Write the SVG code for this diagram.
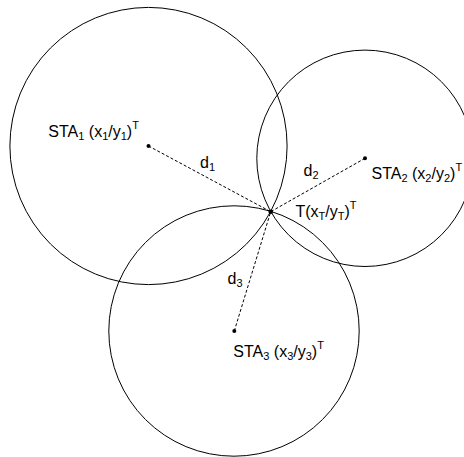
<svg xmlns="http://www.w3.org/2000/svg" width="464" height="457" viewBox="0 0 464 457">
<style>
.c{fill:none;stroke:#000;stroke-width:1}
.d{fill:none;stroke:#000;stroke-width:1;stroke-dasharray:3 2}
.p{fill:#000}
text{font-family:"Liberation Sans",Arial,sans-serif;font-size:16px;fill:#000}
.s{font-size:11px}
</style>
<rect width="464" height="457" fill="#fff"/>
<g id="connectors">
<line class="d" x1="148.5" y1="146" x2="270.7" y2="211.7"/>
<line class="d" x1="365" y1="158.3" x2="270.7" y2="211.7"/>
<line class="d" x1="234.3" y1="331" x2="270.7" y2="211.7"/>
</g>
<g id="circle1"><circle class="c" cx="148.5" cy="146" r="138.6"/></g>
<g id="circle2"><circle class="c" cx="365" cy="158.3" r="108.2"/></g>
<g id="circle3"><circle class="c" cx="234" cy="331" r="125.2"/></g>
<g id="sta1">
<circle class="p" cx="148.5" cy="146" r="2"/>
<text x="48.3" y="136.5">STA<tspan class="s" dy="3">1</tspan><tspan dy="-3"> (x</tspan><tspan class="s" dy="3">1</tspan><tspan dy="-3">/y</tspan><tspan class="s" dy="3">1</tspan><tspan dy="-3">)</tspan><tspan class="s" dy="-8">T</tspan></text>
</g>
<g id="sta2">
<circle class="p" cx="365" cy="158.3" r="2"/>
<text x="371.5" y="178.5">STA<tspan class="s" dy="3">2</tspan><tspan dy="-3"> (x</tspan><tspan class="s" dy="3">2</tspan><tspan dy="-3">/y</tspan><tspan class="s" dy="3">2</tspan><tspan dy="-3">)</tspan><tspan class="s" dy="-8">T</tspan></text>
</g>
<g id="sta3">
<circle class="p" cx="234.3" cy="331" r="2"/>
<text x="233.3" y="357">STA<tspan class="s" dy="3">3</tspan><tspan dy="-3"> (x</tspan><tspan class="s" dy="3">3</tspan><tspan dy="-3">/y</tspan><tspan class="s" dy="3">3</tspan><tspan dy="-3">)</tspan><tspan class="s" dy="-8">T</tspan></text>
</g>
<g id="target">
<circle class="p" cx="270.7" cy="211.7" r="2.3"/>
<text x="295.5" y="217">T(x<tspan class="s" dy="3">T</tspan><tspan dy="-3">/y</tspan><tspan class="s" dy="3">T</tspan><tspan dy="-3">)</tspan><tspan class="s" dy="-8">T</tspan></text>
</g>
<g id="labels">
<text x="200" y="168">d<tspan class="s" dy="3">1</tspan></text>
<text x="303.5" y="176">d<tspan class="s" dy="3">2</tspan></text>
<text x="227.5" y="283.5">d<tspan class="s" dy="3">3</tspan></text>
</g>
</svg>
